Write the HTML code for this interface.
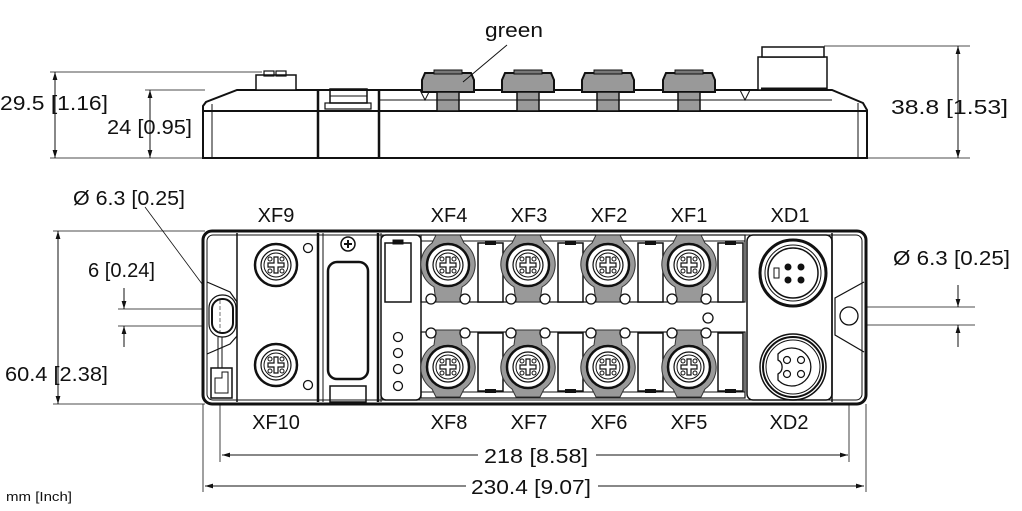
<!DOCTYPE html>
<html><head><meta charset="utf-8"><style>
html,body{margin:0;padding:0;background:#fff;}
svg{display:block}
text{font-family:"Liberation Sans",sans-serif;fill:#111}
</style></head><body>
<svg width="1022" height="511" viewBox="0 0 1022 511" xmlns="http://www.w3.org/2000/svg">
<defs>
<marker id="a" viewBox="0 0 10 10" refX="10" refY="5" markerWidth="8" markerHeight="10" orient="auto-start-reverse" markerUnits="userSpaceOnUse"><path d="M0,2 L10,5 L0,8 z" fill="#111"/></marker>
<g id="m12">
<circle r="21" fill="#fff" stroke="#111" stroke-width="2.5"/>
<circle r="15" fill="#fff" stroke="#111" stroke-width="1.2"/>
<circle r="12" fill="none" stroke="#111" stroke-width="1"/>
<path d="M-8,-2H-2V-8H2V-2H8V2H2V8H-2V2H-8z" fill="#fff" stroke="#111" stroke-width="1.2"/>
<circle cx="-6" cy="-6" r="2" fill="none" stroke="#111"/><circle cx="6" cy="-6" r="2" fill="none" stroke="#111"/>
<circle cx="-6" cy="6" r="2" fill="none" stroke="#111"/><circle cx="6" cy="6" r="2" fill="none" stroke="#111"/>
</g>
<g id="xft">
<path d="M-12,-30 H12 L16,-22 A26,26 0 0 1 14,22 L12,37 H-12 L-14,22 A26,26 0 0 1 -16,-22 Z" fill="#999" stroke="#333" stroke-width="1"/>
<circle cx="-17" cy="34" r="5" fill="#fff" stroke="#111" stroke-width="1.3"/>
<circle cx="17" cy="34" r="5" fill="#fff" stroke="#111" stroke-width="1.3"/>
<use href="#m12"/>
</g>
<g id="side">
<path d="M-23,-19 H23 L26,-12 V0 H-26 V-12 Z" fill="#999" stroke="#111" stroke-width="2"/>
<rect x="-14" y="-22" width="28" height="4" fill="#777" stroke="#111"/>
<rect x="-11" y="0" width="22" height="19" fill="#999" stroke="#111" stroke-width="1.5"/>
<line x1="-11" y1="8" x2="11" y2="8" stroke="#111"/>
</g>
</defs>

<!-- SIDE VIEW -->
<g stroke="#111" fill="none">
<line x1="50" y1="72" x2="262" y2="72" stroke-width="0.8"/>
<line x1="145" y1="90" x2="205" y2="90" stroke-width="0.8"/>
<line x1="50" y1="158" x2="205" y2="158" stroke-width="0.8"/>
<line x1="866" y1="158" x2="970" y2="158" stroke-width="0.8"/>
<line x1="824" y1="46" x2="970" y2="46" stroke-width="0.8"/>
<line x1="55" y1="72" x2="55" y2="158" stroke-width="1" marker-start="url(#a)" marker-end="url(#a)"/>
<line x1="150" y1="90" x2="150" y2="158" stroke-width="1" marker-start="url(#a)" marker-end="url(#a)"/>
<line x1="958" y1="46" x2="958" y2="158" stroke-width="1" marker-start="url(#a)" marker-end="url(#a)"/>
<path d="M203,158 V106 L206,102 L237,90 H832 L863,103 L867,110 V158 Z" fill="#fff" stroke-width="2"/>
<line x1="203" y1="111" x2="867" y2="111" stroke-width="2"/>
<line x1="212" y1="104" x2="212" y2="158" stroke-width="1"/>
<line x1="858" y1="103" x2="858" y2="158" stroke-width="1"/>
<line x1="318" y1="90" x2="318" y2="158" stroke-width="2.5"/>
<line x1="379" y1="90" x2="379" y2="158" stroke-width="2.5"/>
<rect x="256" y="75" width="40" height="15" fill="#fff" stroke-width="1.5"/>
<rect x="264" y="71" width="10" height="5" stroke-width="1.2"/>
<rect x="276" y="71" width="10" height="5" stroke-width="1.2"/>
<rect x="330" y="89" width="37" height="14" stroke-width="1.5"/>
<line x1="330" y1="96" x2="367" y2="96" stroke-width="1"/>
<rect x="325" y="103" width="46" height="6" stroke-width="1.2"/>
<path d="M420,90 L425,100 L430,90" stroke-width="1"/>
<path d="M740,90 L745,100 L750,90" stroke-width="1"/>
<line x1="379" y1="100" x2="832" y2="100" stroke-width="1"/>
<rect x="758" y="57" width="69" height="33" fill="#fff" stroke-width="1.5"/>
<rect x="762" y="47" width="62" height="10" fill="#fff" stroke-width="1.5"/>
<line x1="761" y1="89" x2="827" y2="89" stroke-width="3"/>
</g>
<use href="#side" x="448" y="92"/>
<use href="#side" x="528" y="92"/>
<use href="#side" x="608" y="92"/>
<use href="#side" x="689" y="92"/>
<line x1="507" y1="45" x2="463" y2="82" stroke="#111" stroke-width="1"/>
<text x="485" y="37" font-size="20" textLength="58" lengthAdjust="spacingAndGlyphs">green</text>
<text x="0" y="110" font-size="20" textLength="108" lengthAdjust="spacingAndGlyphs">29.5 [1.16]</text>
<text x="107" y="134" font-size="20" textLength="85" lengthAdjust="spacingAndGlyphs">24 [0.95]</text>
<text x="891" y="114" font-size="20" textLength="117" lengthAdjust="spacingAndGlyphs">38.8 [1.53]</text>

<!-- FRONT VIEW -->
<g stroke="#111" fill="none">
<line x1="53" y1="231" x2="205" y2="231" stroke-width="0.8"/>
<line x1="53" y1="404" x2="205" y2="404" stroke-width="0.8"/>
<line x1="58" y1="231" x2="58" y2="404" stroke-width="1" marker-start="url(#a)" marker-end="url(#a)"/>
<line x1="118" y1="309" x2="237" y2="309" stroke-width="0.8"/>
<line x1="118" y1="326" x2="237" y2="326" stroke-width="0.8"/>
<line x1="124" y1="288" x2="124" y2="309" stroke-width="1" marker-end="url(#a)"/>
<line x1="124" y1="347" x2="124" y2="326" stroke-width="1" marker-end="url(#a)"/>
<line x1="145" y1="207" x2="211" y2="296" stroke-width="0.8"/>
<line x1="840" y1="307" x2="975" y2="307" stroke-width="0.8"/>
<line x1="840" y1="325" x2="975" y2="325" stroke-width="0.8"/>
<line x1="958" y1="285" x2="958" y2="307" stroke-width="1" marker-end="url(#a)"/>
<line x1="958" y1="347" x2="958" y2="325" stroke-width="1" marker-end="url(#a)"/>
<line x1="203" y1="404" x2="203" y2="492" stroke-width="0.8"/>
<line x1="866" y1="404" x2="866" y2="492" stroke-width="0.8"/>
<line x1="220" y1="340" x2="220" y2="462" stroke-width="0.8"/>
<line x1="849" y1="290" x2="849" y2="462" stroke-width="0.8"/>
<line x1="222" y1="455" x2="478" y2="455" stroke-width="1" marker-start="url(#a)"/>
<line x1="596" y1="455" x2="848" y2="455" stroke-width="1" marker-end="url(#a)"/>
<line x1="205" y1="486" x2="466" y2="486" stroke-width="1" marker-start="url(#a)"/>
<line x1="598" y1="486" x2="864" y2="486" stroke-width="1" marker-end="url(#a)"/>

<rect x="203" y="231" width="663" height="173" rx="9" fill="#fff" stroke-width="3"/>
<rect x="207" y="235" width="655" height="165" rx="6" stroke-width="1"/>
<line x1="237" y1="233" x2="237" y2="402" stroke-width="1.5"/>
<line x1="318" y1="233" x2="318" y2="402" stroke-width="2.5"/>
<line x1="323" y1="233" x2="323" y2="402" stroke-width="1"/>
<line x1="378" y1="233" x2="378" y2="402" stroke-width="2.5"/>
<line x1="381" y1="233" x2="381" y2="402" stroke-width="1"/>
<path d="M207,282 L230,292 L237,302 V336 L230,344 L207,354" stroke-width="1.2"/>
<rect x="209" y="295" width="27" height="42" rx="13" fill="#fff" stroke-width="1.2"/>
<rect x="212" y="299" width="21" height="34" rx="10" stroke-width="2"/>
<line x1="220" y1="300" x2="220" y2="333" stroke-width="0.6" stroke-dasharray="4 2"/>
<line x1="218" y1="337" x2="218" y2="368" stroke-width="1"/>
<line x1="222" y1="337" x2="222" y2="368" stroke-width="1"/>
<rect x="211" y="368" width="21" height="30" stroke-width="1.5"/>
<path d="M215,393 V378 H222 V372 H228 V393 Z" stroke-width="1"/>
<circle cx="308" cy="248" r="4.5" stroke-width="1.3"/>
<circle cx="308" cy="385" r="4.5" stroke-width="1.3"/>
<circle cx="348" cy="244" r="7" stroke-width="1.5"/>
<path d="M344,244 H352 M348,240 V248" stroke-width="2"/>
<rect x="328" y="262" width="40" height="117" rx="9" stroke-width="2.5"/>
<rect x="330" y="386" width="36" height="16" stroke-width="1.5"/>
<rect x="381" y="235" width="40" height="165" rx="5" stroke-width="1.5"/>
<rect x="385" y="243" width="26" height="59" stroke-width="1.5"/>
<rect x="393" y="240" width="10" height="4" fill="#111"/>
<circle cx="398" cy="337" r="4.5" stroke-width="1.3"/>
<circle cx="398" cy="353" r="4.5" stroke-width="1.3"/>
<circle cx="398" cy="369" r="4.5" stroke-width="1.3"/>
<circle cx="398" cy="386" r="4.5" stroke-width="1.3"/>
<rect x="421" y="235" width="324" height="67" stroke-width="1.2"/>
<line x1="421" y1="241" x2="745" y2="241" stroke-width="1"/>
<rect x="421" y="332" width="324" height="66" stroke-width="1.2"/>
<line x1="421" y1="392" x2="745" y2="392" stroke-width="1"/>
<circle cx="708" cy="318" r="5" stroke-width="1.3"/>
<g stroke-width="1.5" fill="#fff">
<rect x="478" y="243" width="25" height="59"/><rect x="558" y="243" width="25" height="59"/><rect x="638" y="243" width="25" height="59"/><rect x="718" y="243" width="25" height="59"/>
<rect x="478" y="333" width="25" height="58"/><rect x="558" y="333" width="25" height="58"/><rect x="638" y="333" width="25" height="58"/><rect x="718" y="333" width="25" height="58"/>
</g>
<g fill="#111" stroke="none">
<rect x="485" y="241" width="11" height="4"/><rect x="565" y="241" width="11" height="4"/><rect x="645" y="241" width="11" height="4"/><rect x="725" y="241" width="11" height="4"/>
<rect x="485" y="389" width="11" height="4"/><rect x="565" y="389" width="11" height="4"/><rect x="645" y="389" width="11" height="4"/><rect x="725" y="389" width="11" height="4"/>
</g>
<rect x="747" y="235" width="85" height="165" rx="6" stroke-width="1.5"/>
<line x1="832" y1="233" x2="832" y2="402" stroke-width="1.5"/>
<path d="M864,282 L835,298 V335 L864,352" stroke-width="1.2"/>
<circle cx="849" cy="316" r="9" fill="#fff" stroke-width="1.3"/>
<circle cx="793" cy="273" r="33" stroke-width="3"/>
<circle cx="793" cy="273" r="28" stroke-width="1"/>
<circle cx="793" cy="273" r="25" stroke-width="1.5"/>
<rect x="774" y="268" width="5" height="10" stroke-width="1"/>
<circle cx="788" cy="267" r="3" fill="#111"/><circle cx="801" cy="267" r="3" fill="#111"/>
<circle cx="788" cy="280" r="3" fill="#111"/><circle cx="801" cy="280" r="3" fill="#111"/>
<circle cx="793" cy="367" r="33" stroke-width="1.5"/>
<circle cx="793" cy="367" r="30" stroke-width="2"/>
<circle cx="793" cy="367" r="27" stroke-width="1"/>
<path d="M778,354 A19,19 0 1 1 778,380 V374 A8,8 0 0 0 778,360 Z" stroke-width="1.3"/>
<circle cx="787" cy="360" r="3.5" stroke-width="1.2"/><circle cx="801" cy="360" r="3.5" stroke-width="1.2"/>
<circle cx="787" cy="374" r="3.5" stroke-width="1.2"/><circle cx="801" cy="374" r="3.5" stroke-width="1.2"/>
</g>
<use href="#m12" x="276" y="265"/>
<use href="#m12" x="276" y="365"/>
<use href="#xft" x="448" y="265"/>
<use href="#xft" x="528" y="265"/>
<use href="#xft" x="608" y="265"/>
<use href="#xft" x="689" y="265"/>
<use href="#xft" transform="translate(448,367) scale(1,-1)"/>
<use href="#xft" transform="translate(528,367) scale(1,-1)"/>
<use href="#xft" transform="translate(608,367) scale(1,-1)"/>
<use href="#xft" transform="translate(689,367) scale(1,-1)"/>

<g font-size="20" text-anchor="middle">
<text x="276" y="222">XF9</text><text x="449" y="222">XF4</text><text x="529" y="222">XF3</text><text x="609" y="222">XF2</text><text x="689" y="222">XF1</text><text x="790" y="222">XD1</text>
<text x="276" y="429">XF10</text><text x="449" y="429">XF8</text><text x="529" y="429">XF7</text><text x="609" y="429">XF6</text><text x="689" y="429">XF5</text><text x="789" y="429">XD2</text>
</g>
<text x="484" y="463" font-size="20" textLength="104" lengthAdjust="spacingAndGlyphs">218 [8.58]</text>
<text x="471" y="494" font-size="20" textLength="120" lengthAdjust="spacingAndGlyphs">230.4 [9.07]</text>
<text x="73" y="205" font-size="20" textLength="112" lengthAdjust="spacingAndGlyphs">Ø 6.3 [0.25]</text>
<text x="88" y="277" font-size="20" textLength="67" lengthAdjust="spacingAndGlyphs">6 [0.24]</text>
<text x="5" y="381" font-size="20" textLength="103" lengthAdjust="spacingAndGlyphs">60.4 [2.38]</text>
<text x="893" y="265" font-size="20" textLength="117" lengthAdjust="spacingAndGlyphs">Ø 6.3 [0.25]</text>
<text x="6" y="501" font-size="13" textLength="66" lengthAdjust="spacingAndGlyphs">mm [Inch]</text>
</svg>
</body></html>
